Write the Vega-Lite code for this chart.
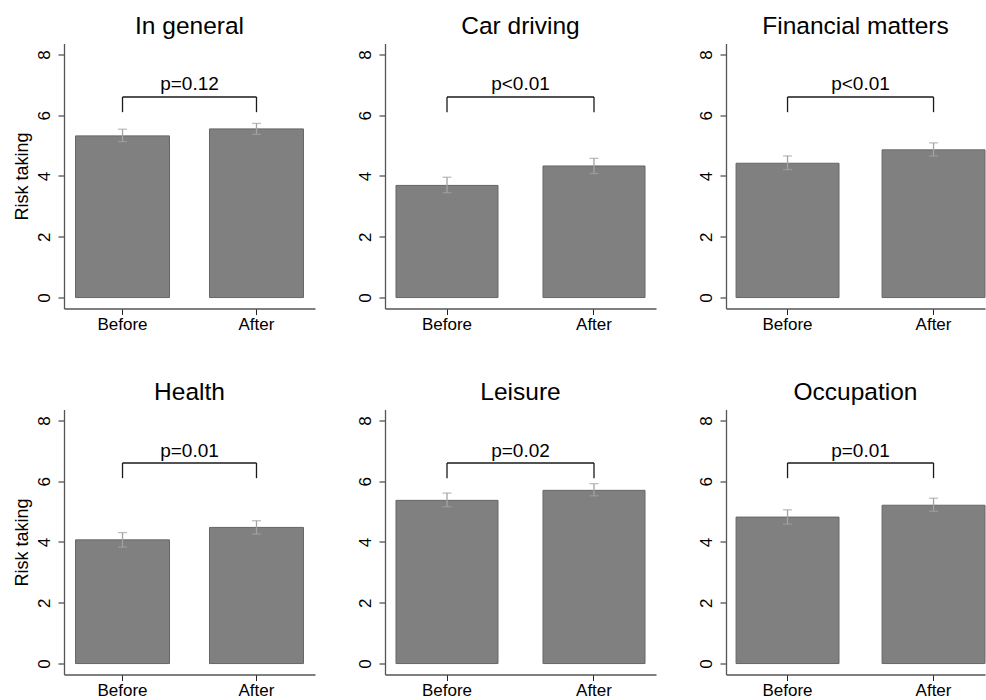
{
  "$schema": "https://vega.github.io/schema/vega-lite/v6.json",
  "padding": {"left": 13, "top": 13.5, "right": 0, "bottom": 0},
  "datasets": {
    "bars": [
      {"panel": "In general", "period": "Before", "mean": 5.32, "lo": 5.13, "hi": 5.54},
      {"panel": "In general", "period": "After", "mean": 5.55, "lo": 5.37, "hi": 5.73},
      {"panel": "Car driving", "period": "Before", "mean": 3.69, "lo": 3.45, "hi": 3.96},
      {"panel": "Car driving", "period": "After", "mean": 4.33, "lo": 4.08, "hi": 4.58},
      {"panel": "Financial matters", "period": "Before", "mean": 4.42, "lo": 4.21, "hi": 4.66},
      {"panel": "Financial matters", "period": "After", "mean": 4.86, "lo": 4.66, "hi": 5.09},
      {"panel": "Health", "period": "Before", "mean": 4.07, "lo": 3.83, "hi": 4.31},
      {"panel": "Health", "period": "After", "mean": 4.48, "lo": 4.26, "hi": 4.7},
      {"panel": "Leisure", "period": "Before", "mean": 5.37, "lo": 5.16, "hi": 5.61},
      {"panel": "Leisure", "period": "After", "mean": 5.7, "lo": 5.52, "hi": 5.92},
      {"panel": "Occupation", "period": "Before", "mean": 4.82, "lo": 4.59, "hi": 5.06},
      {"panel": "Occupation", "period": "After", "mean": 5.21, "lo": 5.01, "hi": 5.44}
    ],
    "pvals": [
      {"panel": "In general", "label": "p=0.12"},
      {"panel": "Car driving", "label": "p<0.01"},
      {"panel": "Financial matters", "label": "p<0.01"},
      {"panel": "Health", "label": "p=0.01"},
      {"panel": "Leisure", "label": "p=0.02"},
      {"panel": "Occupation", "label": "p=0.01"}
    ]
  },
  "config": {
    "font": "Liberation Sans",
    "view": {"stroke": null},
    "axis": {"grid": false, "labelFont": "Liberation Sans", "labelFontSize": 17, "labelColor": "#000000", "titleFont": "Liberation Sans", "titleFontSize": 18, "titleFontWeight": "normal", "titleColor": "#000000", "domainColor": "#555555", "domainWidth": 1.3, "tickColor": "#222222", "tickSize": 6, "tickWidth": 1},
    "axisX": {"labelAngle": 0, "labelPadding": 2},
    "axisY": {"labelAngle": 270, "labelAlign": "center", "labelBaseline": "alphabetic", "labelPadding": 9, "labelOverlap": false},
    "title": {"font": "Liberation Sans", "fontSize": 24.5, "fontWeight": "normal", "frame": "group", "anchor": "middle", "offset": 4.5, "baseline": "alphabetic", "color": "#000000"},
    "text": {"font": "Liberation Sans"}
  },
  "concat": [
    {
      "width": 251, "height": 265, "title": "In general", "data": {"name": "bars"},
      "layer": [
        {"transform": [{"filter": "datum.panel === 'In general'"}], "mark": {"type": "bar", "fill": "#808080", "stroke": "#666666", "strokeWidth": 1},
         "encoding": {"x": {"field": "period", "type": "nominal", "scale": {"domain": ["Before", "After"], "paddingInner": 0.2985, "paddingOuter": 0.086}, "axis": {"title": null}},
                      "y": {"field": "mean", "type": "quantitative", "scale": {"domain": [-0.36, 8.36], "nice": false, "zero": false}, "axis": {"title": "Risk taking", "values": [0, 2, 4, 6, 8], "titleX": -37, "titleBaseline": "alphabetic", "titleAngle": 270}},
                      "y2": {"datum": 0}}},
        {"transform": [{"filter": "datum.panel === 'In general'"}], "mark": {"type": "rule", "color": "#a3a3a3", "strokeWidth": 1.3},
         "encoding": {"x": {"field": "period", "type": "nominal"}, "y": {"field": "lo", "type": "quantitative"}, "y2": {"field": "hi"}}},
        {"transform": [{"filter": "datum.panel === 'In general'"}], "mark": {"type": "tick", "color": "#a3a3a3", "size": 9, "thickness": 1.3},
         "encoding": {"x": {"field": "period", "type": "nominal"}, "y": {"field": "lo", "type": "quantitative"}}},
        {"transform": [{"filter": "datum.panel === 'In general'"}], "mark": {"type": "tick", "color": "#a3a3a3", "size": 9, "thickness": 1.3},
         "encoding": {"x": {"field": "period", "type": "nominal"}, "y": {"field": "hi", "type": "quantitative"}}},
        {"transform": [{"filter": "datum.panel === 'In general'"}], "mark": {"type": "rule", "color": "#1a1a1a", "strokeWidth": 1.3},
         "encoding": {"x": {"field": "period", "type": "nominal"}, "y": {"datum": 6.1}, "y2": {"datum": 6.6}}},
        {"data": {"name": "pvals"}, "transform": [{"filter": "datum.panel === 'In general'"}], "mark": {"type": "rule", "color": "#1a1a1a", "strokeWidth": 1.3},
         "encoding": {"x": {"datum": "Before"}, "x2": {"datum": "After"}, "y": {"datum": 6.6}}},
        {"data": {"name": "pvals"}, "transform": [{"filter": "datum.panel === 'In general'"}], "mark": {"type": "text", "fontSize": 19, "baseline": "alphabetic", "align": "center", "color": "#000000"},
         "encoding": {"x": {"datum": "Before", "bandPosition": 1.2128}, "y": {"datum": 6.82}, "text": {"field": "label"}}}
      ]
    },
    {
      "width": 271, "height": 265, "title": "Car driving", "data": {"name": "bars"},
      "layer": [
        {"transform": [{"filter": "datum.panel === 'Car driving'"}], "mark": {"type": "bar", "fill": "#808080", "stroke": "#666666", "strokeWidth": 1},
         "encoding": {"x": {"field": "period", "type": "nominal", "scale": {"domain": ["Before", "After"], "paddingInner": 0.306, "paddingOuter": 0.0748}, "axis": {"title": null}},
                      "y": {"field": "mean", "type": "quantitative", "scale": {"domain": [-0.36, 8.36], "nice": false, "zero": false}, "axis": {"title": null, "values": [0, 2, 4, 6, 8]}},
                      "y2": {"datum": 0}}},
        {"transform": [{"filter": "datum.panel === 'Car driving'"}], "mark": {"type": "rule", "color": "#a3a3a3", "strokeWidth": 1.3},
         "encoding": {"x": {"field": "period", "type": "nominal"}, "y": {"field": "lo", "type": "quantitative"}, "y2": {"field": "hi"}}},
        {"transform": [{"filter": "datum.panel === 'Car driving'"}], "mark": {"type": "tick", "color": "#a3a3a3", "size": 9, "thickness": 1.3},
         "encoding": {"x": {"field": "period", "type": "nominal"}, "y": {"field": "lo", "type": "quantitative"}}},
        {"transform": [{"filter": "datum.panel === 'Car driving'"}], "mark": {"type": "tick", "color": "#a3a3a3", "size": 9, "thickness": 1.3},
         "encoding": {"x": {"field": "period", "type": "nominal"}, "y": {"field": "hi", "type": "quantitative"}}},
        {"transform": [{"filter": "datum.panel === 'Car driving'"}], "mark": {"type": "rule", "color": "#1a1a1a", "strokeWidth": 1.3},
         "encoding": {"x": {"field": "period", "type": "nominal"}, "y": {"datum": 6.1}, "y2": {"datum": 6.6}}},
        {"data": {"name": "pvals"}, "transform": [{"filter": "datum.panel === 'Car driving'"}], "mark": {"type": "rule", "color": "#1a1a1a", "strokeWidth": 1.3},
         "encoding": {"x": {"datum": "Before"}, "x2": {"datum": "After"}, "y": {"datum": 6.6}}},
        {"data": {"name": "pvals"}, "transform": [{"filter": "datum.panel === 'Car driving'"}], "mark": {"type": "text", "fontSize": 19, "baseline": "alphabetic", "align": "center", "color": "#000000"},
         "encoding": {"x": {"datum": "Before", "bandPosition": 1.2205}, "y": {"datum": 6.82}, "text": {"field": "label"}}}
      ]
    },
    {
      "width": 259, "height": 265, "title": "Financial matters", "data": {"name": "bars"},
      "layer": [
        {"transform": [{"filter": "datum.panel === 'Financial matters'"}], "mark": {"type": "bar", "fill": "#808080", "stroke": "#666666", "strokeWidth": 1},
         "encoding": {"x": {"field": "period", "type": "nominal", "scale": {"domain": ["Before", "After"], "paddingInner": 0.295, "paddingOuter": 0.0345, "align": 1}, "axis": {"title": null}},
                      "y": {"field": "mean", "type": "quantitative", "scale": {"domain": [-0.36, 8.36], "nice": false, "zero": false}, "axis": {"title": null, "values": [0, 2, 4, 6, 8]}},
                      "y2": {"datum": 0}}},
        {"transform": [{"filter": "datum.panel === 'Financial matters'"}], "mark": {"type": "rule", "color": "#a3a3a3", "strokeWidth": 1.3},
         "encoding": {"x": {"field": "period", "type": "nominal"}, "y": {"field": "lo", "type": "quantitative"}, "y2": {"field": "hi"}}},
        {"transform": [{"filter": "datum.panel === 'Financial matters'"}], "mark": {"type": "tick", "color": "#a3a3a3", "size": 9, "thickness": 1.3},
         "encoding": {"x": {"field": "period", "type": "nominal"}, "y": {"field": "lo", "type": "quantitative"}}},
        {"transform": [{"filter": "datum.panel === 'Financial matters'"}], "mark": {"type": "tick", "color": "#a3a3a3", "size": 9, "thickness": 1.3},
         "encoding": {"x": {"field": "period", "type": "nominal"}, "y": {"field": "hi", "type": "quantitative"}}},
        {"transform": [{"filter": "datum.panel === 'Financial matters'"}], "mark": {"type": "rule", "color": "#1a1a1a", "strokeWidth": 1.3},
         "encoding": {"x": {"field": "period", "type": "nominal"}, "y": {"datum": 6.1}, "y2": {"datum": 6.6}}},
        {"data": {"name": "pvals"}, "transform": [{"filter": "datum.panel === 'Financial matters'"}], "mark": {"type": "rule", "color": "#1a1a1a", "strokeWidth": 1.3},
         "encoding": {"x": {"datum": "Before"}, "x2": {"datum": "After"}, "y": {"datum": 6.6}}},
        {"data": {"name": "pvals"}, "transform": [{"filter": "datum.panel === 'Financial matters'"}], "mark": {"type": "text", "fontSize": 19, "baseline": "alphabetic", "align": "center", "color": "#000000"},
         "encoding": {"x": {"datum": "Before", "bandPosition": 1.209}, "y": {"datum": 6.82}, "text": {"field": "label"}}}
      ]
    },
    {
      "width": 251, "height": 265, "title": "Health", "data": {"name": "bars"},
      "layer": [
        {"transform": [{"filter": "datum.panel === 'Health'"}], "mark": {"type": "bar", "fill": "#808080", "stroke": "#666666", "strokeWidth": 1},
         "encoding": {"x": {"field": "period", "type": "nominal", "scale": {"domain": ["Before", "After"], "paddingInner": 0.2985, "paddingOuter": 0.086}, "axis": {"title": null}},
                      "y": {"field": "mean", "type": "quantitative", "scale": {"domain": [-0.36, 8.36], "nice": false, "zero": false}, "axis": {"title": "Risk taking", "values": [0, 2, 4, 6, 8], "titleX": -37, "titleBaseline": "alphabetic", "titleAngle": 270}},
                      "y2": {"datum": 0}}},
        {"transform": [{"filter": "datum.panel === 'Health'"}], "mark": {"type": "rule", "color": "#a3a3a3", "strokeWidth": 1.3},
         "encoding": {"x": {"field": "period", "type": "nominal"}, "y": {"field": "lo", "type": "quantitative"}, "y2": {"field": "hi"}}},
        {"transform": [{"filter": "datum.panel === 'Health'"}], "mark": {"type": "tick", "color": "#a3a3a3", "size": 9, "thickness": 1.3},
         "encoding": {"x": {"field": "period", "type": "nominal"}, "y": {"field": "lo", "type": "quantitative"}}},
        {"transform": [{"filter": "datum.panel === 'Health'"}], "mark": {"type": "tick", "color": "#a3a3a3", "size": 9, "thickness": 1.3},
         "encoding": {"x": {"field": "period", "type": "nominal"}, "y": {"field": "hi", "type": "quantitative"}}},
        {"transform": [{"filter": "datum.panel === 'Health'"}], "mark": {"type": "rule", "color": "#1a1a1a", "strokeWidth": 1.3},
         "encoding": {"x": {"field": "period", "type": "nominal"}, "y": {"datum": 6.1}, "y2": {"datum": 6.6}}},
        {"data": {"name": "pvals"}, "transform": [{"filter": "datum.panel === 'Health'"}], "mark": {"type": "rule", "color": "#1a1a1a", "strokeWidth": 1.3},
         "encoding": {"x": {"datum": "Before"}, "x2": {"datum": "After"}, "y": {"datum": 6.6}}},
        {"data": {"name": "pvals"}, "transform": [{"filter": "datum.panel === 'Health'"}], "mark": {"type": "text", "fontSize": 19, "baseline": "alphabetic", "align": "center", "color": "#000000"},
         "encoding": {"x": {"datum": "Before", "bandPosition": 1.2128}, "y": {"datum": 6.8}, "text": {"field": "label"}}}
      ]
    },
    {
      "width": 271, "height": 265, "title": "Leisure", "data": {"name": "bars"},
      "layer": [
        {"transform": [{"filter": "datum.panel === 'Leisure'"}], "mark": {"type": "bar", "fill": "#808080", "stroke": "#666666", "strokeWidth": 1},
         "encoding": {"x": {"field": "period", "type": "nominal", "scale": {"domain": ["Before", "After"], "paddingInner": 0.306, "paddingOuter": 0.0748}, "axis": {"title": null}},
                      "y": {"field": "mean", "type": "quantitative", "scale": {"domain": [-0.36, 8.36], "nice": false, "zero": false}, "axis": {"title": null, "values": [0, 2, 4, 6, 8]}},
                      "y2": {"datum": 0}}},
        {"transform": [{"filter": "datum.panel === 'Leisure'"}], "mark": {"type": "rule", "color": "#a3a3a3", "strokeWidth": 1.3},
         "encoding": {"x": {"field": "period", "type": "nominal"}, "y": {"field": "lo", "type": "quantitative"}, "y2": {"field": "hi"}}},
        {"transform": [{"filter": "datum.panel === 'Leisure'"}], "mark": {"type": "tick", "color": "#a3a3a3", "size": 9, "thickness": 1.3},
         "encoding": {"x": {"field": "period", "type": "nominal"}, "y": {"field": "lo", "type": "quantitative"}}},
        {"transform": [{"filter": "datum.panel === 'Leisure'"}], "mark": {"type": "tick", "color": "#a3a3a3", "size": 9, "thickness": 1.3},
         "encoding": {"x": {"field": "period", "type": "nominal"}, "y": {"field": "hi", "type": "quantitative"}}},
        {"transform": [{"filter": "datum.panel === 'Leisure'"}], "mark": {"type": "rule", "color": "#1a1a1a", "strokeWidth": 1.3},
         "encoding": {"x": {"field": "period", "type": "nominal"}, "y": {"datum": 6.1}, "y2": {"datum": 6.6}}},
        {"data": {"name": "pvals"}, "transform": [{"filter": "datum.panel === 'Leisure'"}], "mark": {"type": "rule", "color": "#1a1a1a", "strokeWidth": 1.3},
         "encoding": {"x": {"datum": "Before"}, "x2": {"datum": "After"}, "y": {"datum": 6.6}}},
        {"data": {"name": "pvals"}, "transform": [{"filter": "datum.panel === 'Leisure'"}], "mark": {"type": "text", "fontSize": 19, "baseline": "alphabetic", "align": "center", "color": "#000000"},
         "encoding": {"x": {"datum": "Before", "bandPosition": 1.2205}, "y": {"datum": 6.8}, "text": {"field": "label"}}}
      ]
    },
    {
      "width": 259, "height": 265, "title": "Occupation", "data": {"name": "bars"},
      "layer": [
        {"transform": [{"filter": "datum.panel === 'Occupation'"}], "mark": {"type": "bar", "fill": "#808080", "stroke": "#666666", "strokeWidth": 1},
         "encoding": {"x": {"field": "period", "type": "nominal", "scale": {"domain": ["Before", "After"], "paddingInner": 0.295, "paddingOuter": 0.0345, "align": 1}, "axis": {"title": null}},
                      "y": {"field": "mean", "type": "quantitative", "scale": {"domain": [-0.36, 8.36], "nice": false, "zero": false}, "axis": {"title": null, "values": [0, 2, 4, 6, 8]}},
                      "y2": {"datum": 0}}},
        {"transform": [{"filter": "datum.panel === 'Occupation'"}], "mark": {"type": "rule", "color": "#a3a3a3", "strokeWidth": 1.3},
         "encoding": {"x": {"field": "period", "type": "nominal"}, "y": {"field": "lo", "type": "quantitative"}, "y2": {"field": "hi"}}},
        {"transform": [{"filter": "datum.panel === 'Occupation'"}], "mark": {"type": "tick", "color": "#a3a3a3", "size": 9, "thickness": 1.3},
         "encoding": {"x": {"field": "period", "type": "nominal"}, "y": {"field": "lo", "type": "quantitative"}}},
        {"transform": [{"filter": "datum.panel === 'Occupation'"}], "mark": {"type": "tick", "color": "#a3a3a3", "size": 9, "thickness": 1.3},
         "encoding": {"x": {"field": "period", "type": "nominal"}, "y": {"field": "hi", "type": "quantitative"}}},
        {"transform": [{"filter": "datum.panel === 'Occupation'"}], "mark": {"type": "rule", "color": "#1a1a1a", "strokeWidth": 1.3},
         "encoding": {"x": {"field": "period", "type": "nominal"}, "y": {"datum": 6.1}, "y2": {"datum": 6.6}}},
        {"data": {"name": "pvals"}, "transform": [{"filter": "datum.panel === 'Occupation'"}], "mark": {"type": "rule", "color": "#1a1a1a", "strokeWidth": 1.3},
         "encoding": {"x": {"datum": "Before"}, "x2": {"datum": "After"}, "y": {"datum": 6.6}}},
        {"data": {"name": "pvals"}, "transform": [{"filter": "datum.panel === 'Occupation'"}], "mark": {"type": "text", "fontSize": 19, "baseline": "alphabetic", "align": "center", "color": "#000000"},
         "encoding": {"x": {"datum": "Before", "bandPosition": 1.209}, "y": {"datum": 6.8}, "text": {"field": "label"}}}
      ]
    }
  ],
  "columns": 3,
  "spacing": {"row": 101, "column": 70},
  "bounds": "flush",
  "align": "each"
}
